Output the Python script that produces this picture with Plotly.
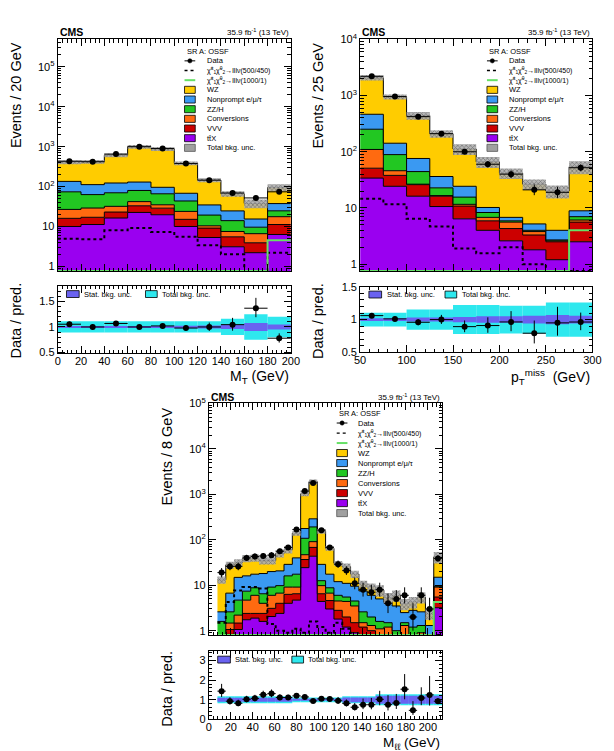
import math
import numpy as np
import plotly.graph_objects as go

W, H = 614, 751
FONT = "Liberation Sans, Arial, Helvetica, sans-serif"

# ---------------- data ----------------
# stacking order bottom -> top
process_names = ["ttX", "VVV", "Conversions", "ZZ/H", "Nonprompt", "WZ"]
process_colors = ["#9a00f0", "#cc0000", "#ff6a10", "#22c722", "#3a99f2", "#ffcc00"]
legend_labels = ["WZ", "Nonprompt e/μ/τ", "ZZ/H", "Conversions", "VVV", "tt\u0304X"]
legend_colors = ["#ffcc00", "#3a99f2", "#22c722", "#ff6a10", "#cc0000", "#9a00f0"]

# Panel 1: M_T
mt_edges = [0, 20, 40, 60, 80, 100, 120, 140, 160, 180, 200]
mt_ttx = [10, 11.2, 16.3, 22.5, 19.7, 10, 5.3, 3.1, 2.2, 6.3]
mt_vvv = [6, 5.8, 6.7, 10.5, 9.1, 5.1, 3.8, 2.4, 1.7, 4.9]
mt_conv = [10.8, 12, 9, 9, 6.2, 8.8, 1.3, 2.0, 2.7, 6.4]
mt_zz = [47.2, 34, 38, 38, 31, 19.7, 8.9, 6.5, 3.0, 7.1]
mt_np = [61, 49, 53, 50, 30, 24.4, 15.4, 10.6, 5.8, 12.8]
mt_wz = [275, 308, 487, 870, 784, 317, 110.3, 41.4, 22.6, 57.5]
mt_data = [432, 420, 652, 1000, 898, 377, 145, 69, 52, 74]
mt_sig1 = [4.9, 4.8, 8.0, 9.1, 7.3, 5.5, 3.4, 2.0, 0, 2.2]
mt_sig2 = [0, 0, 0, 0, 0, 0, 0, 0, 0, 4.5]
mt_unc_tot = [0.11, 0.11, 0.11, 0.11, 0.11, 0.11, 0.11, 0.16, 0.25, 0.20]
mt_unc_stat = [0.02, 0.02, 0.02, 0.02, 0.02, 0.025, 0.03, 0.04, 0.08, 0.05]

# Panel 2: pTmiss
met_edges = [50, 75, 100, 125, 150, 175, 200, 225, 250, 275, 300]
met_ttx = [34, 24.3, 16.2, 10.6, 6.4, 4.0, 2.6, 1.8, 1.2, 2.5]
met_vvv = [17, 13.7, 9.8, 5.6, 4.4, 1.9, 1.7, 1.5, 1.3, 3.1]
met_conv = [59, 8, 0.5, 0.4, 0.8, 0.9, 1.3, 0.5, 0.1, 0.5]
met_zz = [142, 43, 17.9, 6.2, 4.0, 1.5, 0.3, 0.2, 0.1, 0.9]
met_np = [213, 53, 31.6, 13.5, 8.7, 1.9, 0.9, 1.2, 1.3, 1.9]
met_wz = [1615, 808, 364, 173.7, 87.7, 55.8, 34.7, 21.3, 16, 45.1]
met_data = [2205, 960, 422, 210, 100, 60, 40, 21, 19, 52]
met_sig1 = [14.6, 11.6, 6.4, 4.7, 1.9, 1.56, 2.0, 1.0, 0, 0]
met_sig2 = [0, 0, 0, 0, 0, 0, 0, 0, 0, 4.0]
met_unc_tot = [0.105, 0.105, 0.155, 0.155, 0.22, 0.22, 0.21, 0.21, 0.26, 0.26]
met_unc_stat = [0.02, 0.02, 0.03, 0.03, 0.04, 0.05, 0.05, 0.06, 0.07, 0.06]

# Panel 3: M_ll
mll_edges = [7.8, 15.4, 23.0, 30.6, 38.2, 45.8, 53.4, 61.0, 68.6, 76.2, 83.8, 91.4, 99.0, 106.6,
             114.2, 121.8, 129.4, 137.0, 144.6, 152.2, 159.8, 167.4, 175.0, 182.6, 190.2, 197.8, 205.4, 213.0]
mll_ttx = [0.3, 0.83, 1.06, 1.74, 1.89, 1.6, 2.05, 2.4, 4.0, 4.7, 24.4, 43.5, 4.4, 3.0, 1.8, 1.2, 0.9,
           0.8, 0.6, 0.5, 0.4, 0.4, 0.3, 0.3, 0.3, 0.2, 3.2]
mll_vvv = [0.1, 0.23, 0.41, 0.66, 0.51, 0.8, 1.05, 1.6, 2.3, 1.8, 12.4, 24.5, 2.1, 1.6, 1.0, 0.8, 0.6,
           0.4, 0.4, 0.3, 0.2, 0.2, 0.2, 0.2, 0.2, 0.1, 2.3]
mll_conv = [0.1, 0.41, 0.73, 2.3, 3.6, 1.6, 2.9, 2.7, 2.8, 2.6, 10.2, 23, 3.3, 2.1, 1.7, 2.4, 2.0,
            0.3, 0.3, 0.3, 0.6, 0.2, 0.8, 0.2, 0.4, 0.1, 3.6]
mll_zz = [1.1, 1.13, 2.5, 2.7, 2.8, 2.5, 3.1, 3.1, 7.0, 8.4, 61, 101, 2.8, 2.1, 1.5, 1.1, 1.0,
          1.1, 0.7, 0.5, 0.3, 0.2, 0.2, 0.5, 0.4, 0.1, 0.4]
mll_np = [1.0, 4.1, 10.2, 8.7, 8.7, 11.6, 10.9, 10.9, 12.7, 22.5, 69, 98, 16.2, 8.7, 6.0, 5.5, 5.0,
          4.9, 4.0, 3.4, 2.7, 2.5, 1.0, 1.6, 1.3, 0.8, 5.5]
mll_wz = [10.6, 21.3, 16.6, 22.9, 22.5, 16.9, 15, 29.3, 32.2, 100, 853, 1610, 126.2, 47.5, 18.5, 14.6, 8.2,
          3.2, 3.3, 2.8, 1.1, 2.5, 1.4, 1.5, 2.9, 1.1, 27]
mll_data = [19, 26, 26, 40, 43, 44, 46, 56, 68, 168, 1180, 1790, 163, 68, 29, 21, 11, 8, 7, 8, 4, 5, 6, 2, 6, 3, 39]
mll_sig1 = [1.5, 4.3, 7.7, 9.1, 9.1, 8.5, 1.4, 1.0, 0.9, 1.1, 0.9, 1.6, 1.2, 0.9, 1.5, 1.1, 0.8,
            0, 0, 0, 0, 0, 0, 0, 0, 0, 0]
mll_sig2 = [0] * 26 + [4.3]
mll_unc_tot = [0.18] * 9 + [0.12] * 6 + [0.18] * 4 + [0.28] * 8
mll_unc_stat = [0.10] * 9 + [0.05] * 6 + [0.12] * 4 + [0.20] * 8

PANELS = [
    dict(edges=mt_edges, comps=[mt_ttx, mt_vvv, mt_conv, mt_zz, mt_np, mt_wz], data=mt_data,
         sig1=mt_sig1, sig2=mt_sig2, utot=mt_unc_tot, ustat=mt_unc_stat,
         main_px=(53, 292, 32, 268), ratio_px=(53, 292, 283, 352),
         yr_main=[-0.116, 5.69], yr_ratio=[0.48, 1.81], xr=[0, 200], xdt=20, xminor=4,
         rdt=0.5, rminor=0.1, decades=[0, 1, 2, 3, 4, 5],
         ytitle="Events / 20 GeV", xtitle="M<sub>T</sub> (GeV)",
         yt_x=11, yt_top=33, rt_x=10, rt_top=278, xt_y=376, cms_y=24.5, xt_size=14,
         leg=(183, 44, 9.85, 21), rleg=(62, 143, 291.5)),
    dict(edges=met_edges, comps=[met_ttx, met_vvv, met_conv, met_zz, met_np, met_wz], data=met_data,
         sig1=met_sig1, sig2=met_sig2, utot=met_unc_tot, ustat=met_unc_stat,
         main_px=(363, 601, 32, 268), ratio_px=(363, 601, 284, 351),
         yr_main=[-0.122, 4.0], yr_ratio=[0.5, 1.5], xr=[50, 300], xdt=50, xminor=10,
         rdt=0.5, rminor=0.1, decades=[0, 1, 2, 3, 4],
         ytitle="Events / 25 GeV", xtitle="p<sub>T</sub><sup>miss</sup>  (GeV)",
         yt_x=320, yt_top=33, rt_x=320, rt_top=278, xt_y=376, cms_y=24.5, xt_size=14,
         leg=(493, 44, 9.85, 21), rleg=(372, 450, 292)),
    dict(edges=mll_edges, comps=[mll_ttx, mll_vvv, mll_conv, mll_zz, mll_np, mll_wz], data=mll_data,
         sig1=mll_sig1, sig2=mll_sig2, utot=mll_unc_tot, ustat=mll_unc_stat,
         main_px=(208, 447, 403, 639), ratio_px=(208, 447, 655, 725),
         yr_main=[-0.097, 5.0], yr_ratio=[0.0, 3.49], xr=[0, 213], xdt=20, xminor=4,
         rdt=1, rminor=0.2, decades=[0, 1, 2, 3, 4, 5],
         ytitle="Events / 8 GeV", xtitle="M<sub>ℓℓ</sub> (GeV)",
         yt_x=165, yt_top=405, rt_x=165, rt_top=653, xt_y=749, cms_y=396.7, xt_size=13.5,
         leg=(339, 412.7, 10.2, 20), rleg=(217, 293, 664)),
]

CYAN = "#2ee8ee"
STATBLUE = "#6a62f0"
SIGGREEN = "#66e066"


def px_x(p):
    return p / W


def px_y(p):
    return 1 - p / H


def pois_err(n):
    if n <= 0:
        return 0.0, 1.84
    r = math.sqrt(n + 0.25)
    return r - 0.5, r + 0.5


fig = go.Figure()
axes = {}
shapes = []
annotations = []

tickfont = dict(family=FONT, size=11, color="black")


def axname(c, i):
    return f"{c}axis" if i == 1 else f"{c}axis{i}"


def axref(c, i):
    return c if i == 1 else f"{c}{i}"


def text(x, y, s, size=7.5, xanchor="left", yanchor="middle", angle=0, bold=False):
    if bold:
        s = f"<b>{s}</b>"
    annotations.append(dict(x=px_x(x), y=px_y(y), xref="paper", yref="paper", text=s, showarrow=False,
                            xanchor=xanchor, yanchor=yanchor, textangle=angle,
                            font=dict(family=FONT, size=size, color="black")))


def rect(x0, x1, y0, y1, color, lw=0.8, lc="black"):
    shapes.append(dict(type="rect", xref="paper", yref="paper", x0=px_x(x0), x1=px_x(x1),
                       y0=px_y(y1), y1=px_y(y0), fillcolor=color, line=dict(color=lc, width=lw)))


def hline(x0, x1, y, color, width, dash="solid"):
    shapes.append(dict(type="line", xref="paper", yref="paper", x0=px_x(x0), x1=px_x(x1),
                       y0=px_y(y), y1=px_y(y), line=dict(color=color, width=width, dash=dash)))


for i, P in enumerate(PANELS):
    m, r = 2 * i + 1, 2 * i + 2
    xm, ym, xr, yr = axref("x", m), axref("y", m), axref("x", r), axref("y", r)
    edges = np.array(P["edges"], float)
    centers = 0.5 * (edges[1:] + edges[:-1])
    widths = np.diff(edges)
    floor = 10 ** P["yr_main"][0]
    comps = [np.array(c, float) for c in P["comps"]]
    total = np.sum(comps, axis=0)
    xs = list(edges)

    def step(v):
        v = list(v)
        return v + [v[-1]]

    # base for stacking
    fig.add_trace(go.Scatter(x=xs, y=[floor * 1e-2] * len(xs), mode="lines",
                             line=dict(width=0, shape="hv"), xaxis=xm, yaxis=ym, hoverinfo="skip"))
    cum = np.zeros_like(total)
    for name, col, c in zip(process_names, process_colors, comps):
        cum = cum + c
        fig.add_trace(go.Scatter(x=xs, y=step(cum), mode="lines", name=name,
                                 line=dict(color="black", width=1, shape="hv"),
                                 fill="tonexty", fillcolor=col, xaxis=xm, yaxis=ym))
    # total bkg uncertainty (hatched)
    ut = np.array(P["utot"], float)
    us = np.array(P["ustat"], float)
    fig.add_trace(go.Scatter(x=xs, y=step(total * (1 - ut)), mode="lines",
                             line=dict(width=0, shape="hv"), xaxis=xm, yaxis=ym, hoverinfo="skip"))
    fig.add_trace(go.Scatter(x=xs, y=step(total * (1 + ut)), mode="lines",
                             line=dict(width=0, shape="hv"), fill="tonexty",
                             fillcolor="rgba(160,160,160,0.9)",
                             fillpattern=dict(shape="x", fgcolor="#333333", bgcolor="rgba(175,175,175,0.9)",
                                              size=3, solidity=0.4),
                             xaxis=xm, yaxis=ym, hoverinfo="skip"))
    # signals
    s1 = np.array(P["sig1"], float)
    s1 = np.where(s1 > 0, s1, floor)
    fig.add_trace(go.Scatter(x=xs, y=step(s1), mode="lines",
                             line=dict(color="black", width=2, dash="dot", shape="hv"), xaxis=xm, yaxis=ym))
    s2 = np.array(P["sig2"], float)
    s2 = np.where(s2 > 0, s2, floor)
    fig.add_trace(go.Scatter(x=xs, y=step(s2), mode="lines",
                             line=dict(color=SIGGREEN, width=2, shape="hv"), xaxis=xm, yaxis=ym))
    # data
    d = np.array(P["data"], float)
    errs = [pois_err(n) for n in d]
    elo = np.array([e[0] for e in errs])
    ehi = np.array([e[1] for e in errs])
    fig.add_trace(go.Scatter(x=list(centers), y=list(d), mode="markers",
                             marker=dict(color="black", size=6),
                             error_y=dict(type="data", symmetric=False, array=list(ehi), arrayminus=list(elo),
                                          color="black", thickness=1, width=0),
                             error_x=dict(type="data", array=list(widths / 2), color="black", thickness=1, width=0),
                             xaxis=xm, yaxis=ym))
    # ratio bands
    fig.add_trace(go.Bar(x=list(centers), y=list(2 * ut), base=list(1 - ut), width=list(widths),
                         marker=dict(color=CYAN, line=dict(width=0)), xaxis=xr, yaxis=yr))
    fig.add_trace(go.Bar(x=list(centers), y=list(2 * us), base=list(1 - us), width=list(widths),
                         marker=dict(color=STATBLUE, line=dict(width=0)), xaxis=xr, yaxis=yr))
    ratio = d / total
    fig.add_trace(go.Scatter(x=list(centers), y=list(ratio), mode="markers",
                             marker=dict(color="black", size=6),
                             error_y=dict(type="data", symmetric=False, array=list(ehi / total),
                                          arrayminus=list(elo / total), color="black", thickness=1, width=0),
                             error_x=dict(type="data", array=list(widths / 2), color="black", thickness=1, width=0),
                             xaxis=xr, yaxis=yr))

    # ---- axes ----
    l, rg, t, b = P["main_px"]
    rl, rr, rt, rb = P["ratio_px"]
    common = dict(ticks="inside", tickcolor="black", tickwidth=1, showline=True, linecolor="black",
                  linewidth=1, mirror="ticks", showgrid=False, zeroline=False, tickfont=tickfont)
    axes[axname("x", m)] = dict(domain=[px_x(l), px_x(rg)], range=P["xr"], anchor=ym, showticklabels=False,
                                tickmode="linear", tick0=0, dtick=P["xdt"], ticklen=7,
                                minor=dict(ticks="inside", ticklen=3.5, dtick=P["xminor"], tick0=0,
                                           tickcolor="black", showgrid=False), **common)
    dec = P["decades"]
    tv = [10 ** k for k in dec]
    tt = ["1" if k == 0 else ("10" if k == 1 else f"10<sup>{k}</sup>") for k in dec]
    mv = [j * 10 ** k for k in range(dec[0] - 1, dec[-1] + 1) for j in range(2, 10)]
    axes[axname("y", m)] = dict(domain=[px_y(b), px_y(t)], type="log", range=P["yr_main"], anchor=xm,
                                tickmode="array", tickvals=tv, ticktext=tt, ticklen=7,
                                minor=dict(ticks="inside", ticklen=3.5, tickmode="array", tickvals=mv,
                                           tickcolor="black", showgrid=False), **common)
    axes[axname("x", r)] = dict(domain=[px_x(rl), px_x(rr)], range=P["xr"], anchor=yr, showticklabels=True,
                                tickmode="linear", tick0=0, dtick=P["xdt"], ticklen=7, ticklabelstandoff=-3,
                                minor=dict(ticks="inside", ticklen=3.5, dtick=P["xminor"], tick0=0,
                                           tickcolor="black", showgrid=False), **common)
    axes[axname("y", r)] = dict(domain=[px_y(rb), px_y(rt)], range=P["yr_ratio"], anchor=xr,
                                tickmode="linear", tick0=0, dtick=P["rdt"], ticklen=7,
                                minor=dict(ticks="inside", ticklen=3.5, dtick=P["rminor"], tick0=0,
                                           tickcolor="black", showgrid=False), **common)

    # ---- texts ----
    text(l, P["cms_y"], "CMS", size=10.5, bold=True)
    text(rg, P["cms_y"], "35.9 fb<sup>-1</sup> (13 TeV)", size=8, xanchor="right")
    text(P["yt_x"], P["yt_top"], P["ytitle"], size=14.5, xanchor="center", yanchor="top", angle=-90)
    text(P["rt_x"], P["rt_top"], "Data / pred.", size=14.5, xanchor="center", yanchor="top", angle=-90)
    text(rg, P["xt_y"], P["xtitle"], size=P["xt_size"], xanchor="right")

    # ---- main legend ----
    x0, y0, stp, tx = P["leg"]
    rows = [y0 + stp * k for k in range(11)]
    text(x0, rows[0], "SR A: OSSF", size=7.5)
    hline(x0, x0 + 11, rows[1], "black", 1)
    shapes.append(dict(type="circle", xref="paper", yref="paper", x0=px_x(x0 + 3.3), x1=px_x(x0 + 7.7),
                       y0=px_y(rows[1] + 2.2), y1=px_y(rows[1] - 2.2), fillcolor="black",
                       line=dict(color="black", width=0.5)))
    text(x0 + tx, rows[1], "Data")
    hline(x0, x0 + 11, rows[2], "black", 1.3, dash="dot")
    text(x0 + tx, rows[2], "χ\u0303<sup>±</sup><sub>1</sub>χ\u0303<sup>0</sup><sub>2</sub>→lllν(500/450)", size=7)
    hline(x0, x0 + 11, rows[3], SIGGREEN, 2)
    text(x0 + tx, rows[3], "χ\u0303<sup>±</sup><sub>1</sub>χ\u0303<sup>0</sup><sub>2</sub>→lllν(1000/1)", size=7)
    for k, (lab, col) in enumerate(zip(legend_labels, legend_colors)):
        yy = rows[4 + k]
        rect(x0, x0 + 11, yy - 3.6, yy + 3.6, col)
        text(x0 + tx, yy, lab)
    rect(x0, x0 + 11, rows[10] - 3.6, rows[10] + 3.6, "#a0a0a0", lc="#555")
    text(x0 + tx, rows[10], "Total bkg. unc.")

    # ---- ratio legend ----
    b1, b2, ry = P["rleg"]
    rect(b1, b1 + 13, ry - 3.5, ry + 3.5, STATBLUE)
    text(b1 + 16, ry, "Stat. bkg. unc.", size=7.5)
    rect(b2, b2 + 12, ry - 3.5, ry + 3.5, CYAN)
    text(b2 + 15, ry, "Total bkg. unc.", size=7.5)

fig.update_layout(
    width=W, height=H, margin=dict(l=0, r=0, t=0, b=0),
    paper_bgcolor="white", plot_bgcolor="white", showlegend=False, barmode="overlay",
    font=dict(family=FONT, color="black"),
    shapes=shapes, annotations=annotations, **axes)

fig.write_html("out.html")
